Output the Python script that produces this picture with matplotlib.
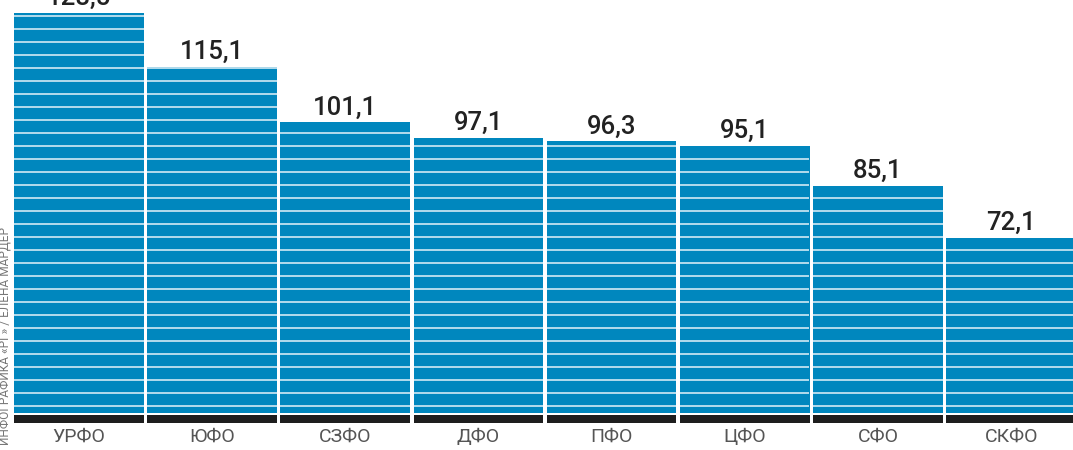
import matplotlib
matplotlib.use("Agg")
import matplotlib.pyplot as plt
import numpy as np

categories = ["УРФО", "ЮФО", "СЗФО", "ДФО", "ПФО", "ЦФО", "СФО", "СКФО"]
values = [128.5, 115.1, 101.1, 97.1, 96.3, 95.1, 85.1, 72.1]
value_labels = ["128,5", "115,1", "101,1", "97,1", "96,3", "95,1", "85,1", "72,1"]
credit = "ИНФОГРАФИКА «РГ» / ЕЛЕНА МАРДЕР"

plt.rcParams['font.family'] = ['Roboto', 'DejaVu Sans']

W, H = 1073, 450
fig = plt.figure(figsize=(W / 100, H / 100), dpi=100)

# pixel layout
ax_bottom_px = 423.3
ax = fig.add_axes([0, 1 - ax_bottom_px / H, 1, ax_bottom_px / H])

px_per_unit = 3.98
base = 28.0               # value where blue bars start
bar_bottom_px = 413.3
ymin = base - (ax_bottom_px - bar_bottom_px) / px_per_unit
ymax = base + bar_bottom_px / px_per_unit

pitch = 133.2
center0 = 78.75
x0 = -center0 / pitch
x1 = (W - center0) / pitch
ax.set_xlim(x0, x1)
ax.set_ylim(ymin, ymax)
ax.axis('off')

x = np.arange(len(categories))
width = 129.5 / pitch
blue = '#0087BE'

heights = [v - base for v in values]
ax.bar(x, heights, bottom=base, width=width, color=blue, zorder=1, linewidth=0)

# black base strip
black_top = base - 1.7 / px_per_unit
ax.bar(x, black_top - ymin, bottom=ymin, width=width, color='#1e1e1e', zorder=1, linewidth=0)

# light horizontal stripes inside bars
step = 13.0 / px_per_unit
first = base + 7.3 / px_per_unit
ys = np.arange(first, ymax, step)
for xi, v in zip(x, values):
    yy = ys[ys < v - 0.5 / px_per_unit]
    ax.hlines(yy, xi - width / 2, xi + width / 2, colors='#e4f3fa', linewidth=1.1, zorder=2)

# value labels
for xi, v, lab in zip(x, values, value_labels):
    ax.annotate(lab, (xi, v), xytext=(0, 8), textcoords='offset pixels',
                ha='center', va='baseline', fontsize=18.5, color='#222222',
                fontweight='medium', zorder=4)

# category labels
trans = ax.get_xaxis_transform()
lab_y = -(441.7 - ax_bottom_px) / ax_bottom_px
for xi, c in zip(x, categories):
    ax.text(xi, lab_y, c, transform=trans, ha='center', va='baseline',
            fontsize=14, color='#555555', fontweight='normal', clip_on=False)

# vertical credit
fig.text(5.5 / W, 1 - 445 / H, credit, rotation=90, ha='center', va='bottom',
         fontsize=8.6, color='#777777')

fig.savefig('out.png', dpi=100)
